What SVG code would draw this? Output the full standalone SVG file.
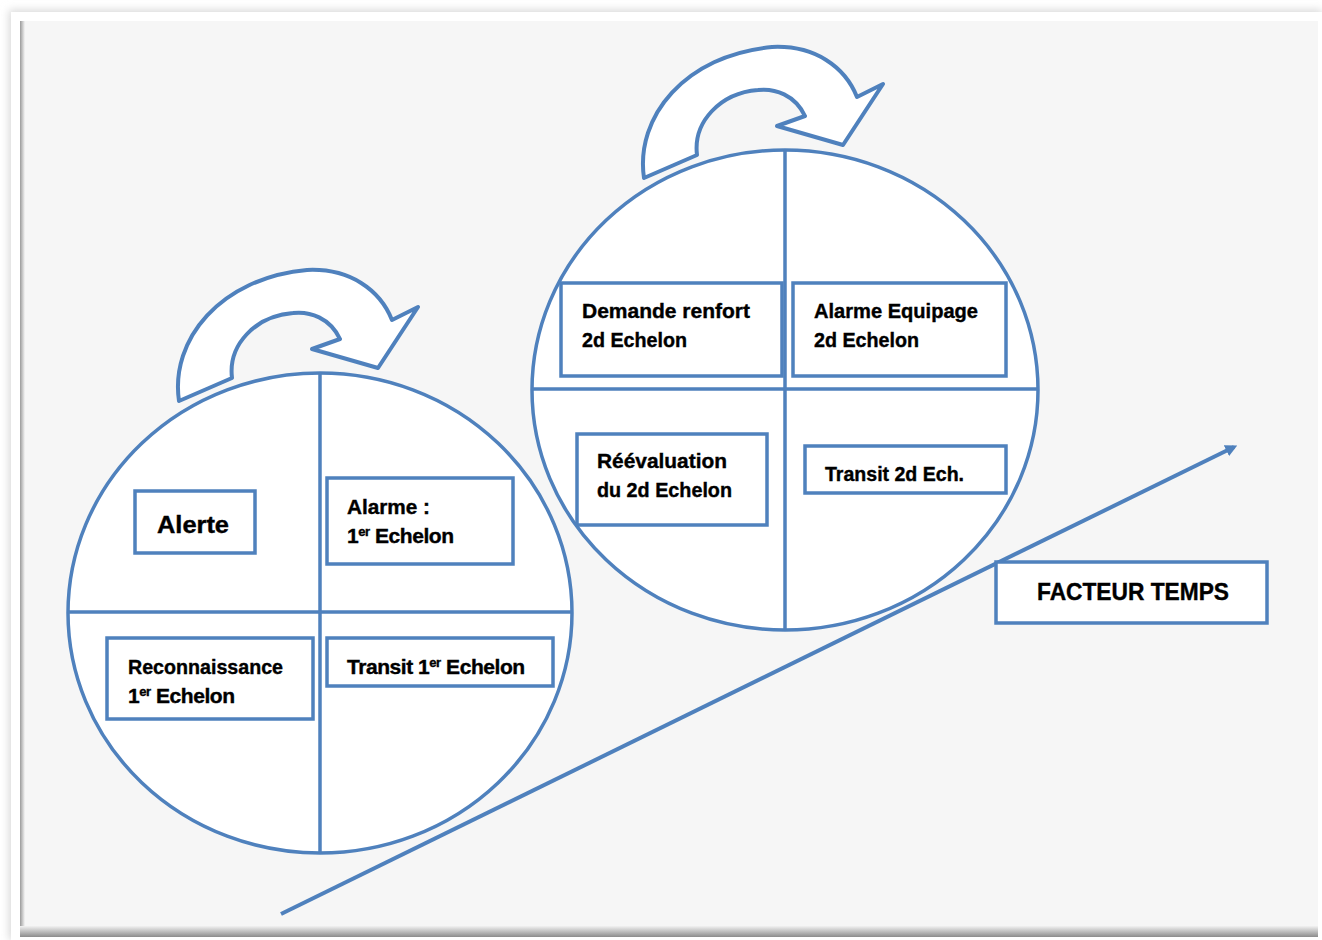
<svg xmlns="http://www.w3.org/2000/svg" width="1322" height="940" viewBox="0 0 1322 940">
<defs>
<style>
.circ{fill:#fff;stroke:#4f81bd;stroke-width:3.5}
.div{stroke:#4f81bd;stroke-width:3.5;fill:none}
.box{fill:#fff;stroke:#4f81bd;stroke-width:3.5}
.lbl{font-family:"Liberation Sans",Arial,sans-serif;font-weight:bold;font-size:21px;fill:#000;stroke:#000;stroke-width:0.4}
.big{font-size:24px}
.tight{letter-spacing:-0.45px}
.curl{fill:#fff;stroke:#4f81bd;stroke-width:4;stroke-linejoin:round}
.sup{font-size:13px}
</style>
<path id="curl" d="M 179,401 C 170,340 220,278 307,270 C 350,268 380,290 392,320 L 418,307 L 378,368 L 312,349 L 340,339 C 330,318 310,311 293,313 C 255,316 228,345 232,378 Z"/>
<marker id="ah" markerWidth="12" markerHeight="12" refX="7" refY="5" orient="auto" markerUnits="userSpaceOnUse" viewBox="0 0 10 10">
<path d="M0,0 L10,5 L0,10 Z" fill="#4f81bd"/>
</marker>
<linearGradient id="gb" x1="0" y1="0" x2="0" y2="1">
<stop offset="0" stop-color="#f2f2f2"/><stop offset="1" stop-color="#8c8c8c"/>
</linearGradient>
<linearGradient id="gl" x1="1" y1="0" x2="0" y2="0">
<stop offset="0" stop-color="#f6f6f6"/><stop offset="1" stop-color="#9a9a9a"/>
</linearGradient>
<filter id="sh" x="-5%" y="-5%" width="110%" height="110%"><feGaussianBlur stdDeviation="4"/></filter>
</defs>
<rect width="1322" height="940" fill="#fff"/>
<rect x="9" y="10" width="1313" height="930" fill="#d8d8d8" filter="url(#sh)"/>
<rect x="11" y="12" width="1311" height="928" fill="#fff"/>
<rect x="20" y="21" width="1298" height="916" fill="#f6f6f6"/>
<rect x="20" y="21" width="5" height="909" fill="url(#gl)"/>
<rect x="20" y="926" width="1298" height="11" fill="url(#gb)"/>

<g id="cycle1">
<use href="#curl" class="curl"/>
<ellipse class="circ" cx="320" cy="613" rx="252" ry="240"/>
<line class="div" x1="320" y1="373" x2="320" y2="853"/>
<line class="div" x1="68" y1="612" x2="572" y2="612"/>
</g>
<g id="cycle2">
<use href="#curl" class="curl" transform="translate(465,-223)"/>
<ellipse class="circ" cx="785" cy="390" rx="253" ry="240"/>
<line class="div" x1="785" y1="150" x2="785" y2="630"/>
<line class="div" x1="532" y1="389" x2="1038" y2="389"/>
</g>

<g id="connectors">
<line x1="281" y1="914" x2="1234" y2="447" stroke="#4f81bd" stroke-width="4" marker-end="url(#ah)"/>
</g>

<g id="n-alerte">
<rect class="box" x="135" y="491" width="120" height="62"/>
<text class="lbl big" x="157" y="533" textLength="72" lengthAdjust="spacingAndGlyphs">Alerte</text>
</g>
<g id="n-alarme1">
<rect class="box" x="327" y="478" width="186" height="86"/>
<text class="lbl" x="347" y="514" textLength="83" lengthAdjust="spacingAndGlyphs">Alarme :</text>
<text class="lbl tight" x="347" y="543">1<tspan class="sup" baseline-shift="super">er</tspan> Echelon</text>
</g>
<g id="n-reco">
<rect class="box" x="107" y="638" width="206" height="81"/>
<text class="lbl" x="128" y="674" textLength="155" lengthAdjust="spacingAndGlyphs">Reconnaissance</text>
<text class="lbl tight" x="128" y="703">1<tspan class="sup" baseline-shift="super">er</tspan> Echelon</text>
</g>
<g id="n-transit1">
<rect class="box" x="327" y="638" width="226" height="48"/>
<text class="lbl tight" x="347" y="674">Transit 1<tspan class="sup" baseline-shift="super">er</tspan> Echelon</text>
</g>
<g id="n-demande">
<rect class="box" x="561" y="283" width="221" height="93"/>
<text class="lbl" x="582" y="318" textLength="168" lengthAdjust="spacingAndGlyphs">Demande renfort</text>
<text class="lbl" x="582" y="347" textLength="105" lengthAdjust="spacingAndGlyphs">2d Echelon</text>
</g>
<g id="n-alarme2">
<rect class="box" x="793" y="283" width="213" height="93"/>
<text class="lbl" x="814" y="318" textLength="164" lengthAdjust="spacingAndGlyphs">Alarme Equipage</text>
<text class="lbl" x="814" y="347" textLength="105" lengthAdjust="spacingAndGlyphs">2d Echelon</text>
</g>
<g id="n-reeval">
<rect class="box" x="577" y="434" width="190" height="91"/>
<text class="lbl" x="597" y="468" textLength="130" lengthAdjust="spacingAndGlyphs">Réévaluation</text>
<text class="lbl" x="597" y="497" textLength="135" lengthAdjust="spacingAndGlyphs">du 2d Echelon</text>
</g>
<g id="n-transit2">
<rect class="box" x="805" y="446" width="201" height="47"/>
<text class="lbl" x="825" y="481" textLength="139" lengthAdjust="spacingAndGlyphs">Transit 2d Ech.</text>
</g>
<g id="n-facteur">
<rect class="box" x="996" y="562" width="271" height="61"/>
<text class="lbl big" x="1037" y="600" textLength="192" lengthAdjust="spacingAndGlyphs">FACTEUR TEMPS</text>
</g>
</svg>
